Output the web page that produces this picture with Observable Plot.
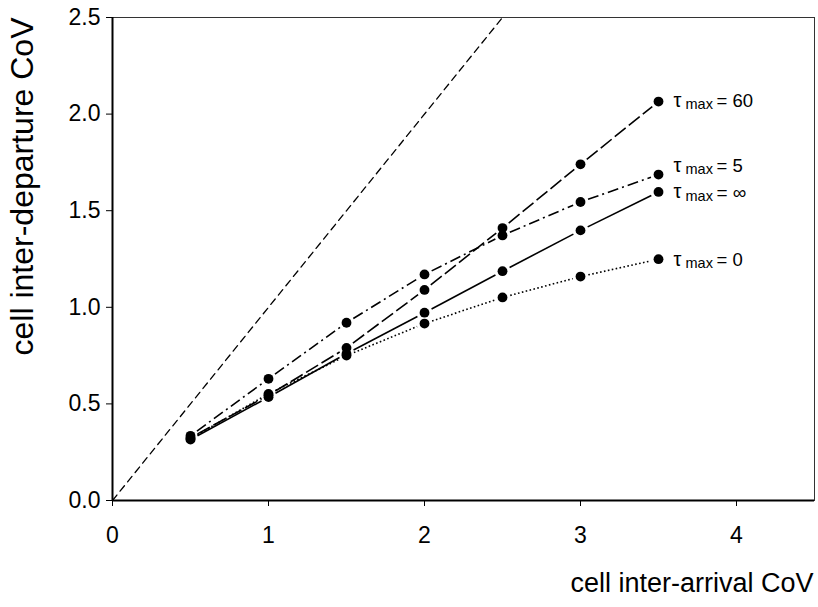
<!DOCTYPE html>
<html><head><meta charset="utf-8">
<script src="https://cdn.jsdelivr.net/npm/d3@7"></script>
<script src="https://cdn.jsdelivr.net/npm/@observablehq/plot@0.6"></script>
<style>body{margin:0;background:#fff}</style>
</head><body><div id="chart"></div>
<script>
// ---- data ----
const arrivalCoV = [0.5, 1, 1.5, 2, 2.5, 3, 3.5];
const tauMax60  = [0.325, 0.545, 0.79, 1.09, 1.41, 1.74, 2.065];
const tauMax5   = [0.335, 0.63, 0.92, 1.17, 1.372, 1.545, 1.687];
const tauMaxInf = [0.315, 0.535, 0.76, 0.972, 1.187, 1.398, 1.597];
const tauMax0   = [0.32, 0.552, 0.75, 0.916, 1.051, 1.159, 1.249];
const seriesNames = ["60", "5", "∞", "0"];
const xTicks = [0, 1, 2, 3, 4];
const yTicks = [0, 0.5, 1, 1.5, 2, 2.5];
const diagonalEnds = [0, 2.5];

// ---- styles (not data) ----
const styles = {
  "60": {dash: "14,4", labelDy: 0},
  "5":  {dash: "11,4,2,4", labelDy: -8},
  "∞":  {dash: null, labelDy: 1},
  "0":  {dash: "1.6,2.4", labelDy: 1}
};
const seriesValues = [tauMax60, tauMax5, tauMaxInf, tauMax0];

const font = "'Liberation Sans', Arial, Helvetica, sans-serif";
const marks = [];

// diagonal y = x
marks.push(Plot.line(diagonalEnds.map(v => ({x: v, y: v})), {
  x: "x", y: "y", stroke: "black", strokeWidth: 1.3, strokeDasharray: "7,5"
}));

seriesNames.forEach((name, si) => {
  const vals = seriesValues[si];
  const segs = d3.pairs(arrivalCoV.map((x, i) => ({x, y: vals[i]})))
    .map(([a, b]) => ({x1: a.x, y1: a.y, x2: b.x, y2: b.y}));
  marks.push(Plot.arrow(segs, {
    x1: "x1", y1: "y1", x2: "x2", y2: "y2",
    headLength: 0, insetStart: 8, insetEnd: 8,
    stroke: "black", strokeWidth: 1.6, strokeLinecap: "butt",
    strokeDasharray: styles[name].dash
  }));
});

const points = seriesNames.flatMap((name, si) =>
  arrivalCoV.map((x, i) => ({series: name, x, y: seriesValues[si][i]})));
marks.push(Plot.dot(points, {x: "x", y: "y", r: 4.9, fill: "black", stroke: "none"}));

// series labels: τ, subscript "max", "= value"
seriesNames.forEach((name, si) => {
  const last = [{x: arrivalCoV[arrivalCoV.length - 1], y: seriesValues[si][arrivalCoV.length - 1]}];
  const dy = styles[name].labelDy;
  marks.push(Plot.text(last, {x: "x", y: "y", text: () => "τ", textAnchor: "start",
    dx: 15, dy: dy - 1, fontSize: 20, fontFamily: font, fill: "black"}));
  marks.push(Plot.text(last, {x: "x", y: "y", text: () => "max", textAnchor: "start",
    dx: 27, dy: dy + 3, fontSize: 14.5, fontFamily: font, fill: "black"}));
  marks.push(Plot.text(last, {x: "x", y: "y", text: () => "= " + name, textAnchor: "start",
    dx: 58, dy: dy, fontSize: name === "∞" ? 19 : 18.5, fontFamily: font, fill: "black"}));
});

// frame and axes (ticks from axis marks, labels as text marks)
marks.push(Plot.frame({stroke: "#333", strokeWidth: 1}));
marks.push(Plot.ruleX([0], {stroke: "black", strokeWidth: 2}));
marks.push(Plot.ruleY([0], {stroke: "black", strokeWidth: 2}));
marks.push(Plot.axisX({ticks: xTicks, tickSize: 6, tickFormat: () => "", label: null}));
marks.push(Plot.axisY({ticks: yTicks, tickSize: 6, tickFormat: () => "", label: null}));
marks.push(Plot.text(xTicks, {x: d => d, frameAnchor: "bottom", lineAnchor: "middle",
  text: d3.format("d"), dy: 35, fontSize: 23, fontFamily: font, fill: "black"}));
marks.push(Plot.text(yTicks, {y: d => d, frameAnchor: "left", textAnchor: "end", lineAnchor: "middle",
  text: d3.format(".1f"), dx: -12, fontSize: 23, fontFamily: font, fill: "black"}));

// axis titles
marks.push(Plot.text(["cell inter-arrival CoV"], {frameAnchor: "bottom-right", textAnchor: "end",
  lineAnchor: "middle", dx: -1, dy: 83, fontSize: 27, fontFamily: font, fill: "black"}));
marks.push(Plot.text(["cell inter-departure CoV"], {frameAnchor: "top-left", textAnchor: "end",
  lineAnchor: "bottom", rotate: -90, dx: -80, dy: 0, fontSize: 32, fontFamily: font, fill: "black"}));

const chart = Plot.plot({
  width: 818, height: 607,
  marginLeft: 112, marginRight: 4, marginTop: 17, marginBottom: 107,
  x: {domain: [0, 4.5]},
  y: {domain: [0, 2.5]},
  style: {fontFamily: font, fontSize: "21px", background: "white", color: "black", overflow: "visible"},
  marks
});
document.getElementById("chart").appendChild(chart);
</script>
</body></html>
